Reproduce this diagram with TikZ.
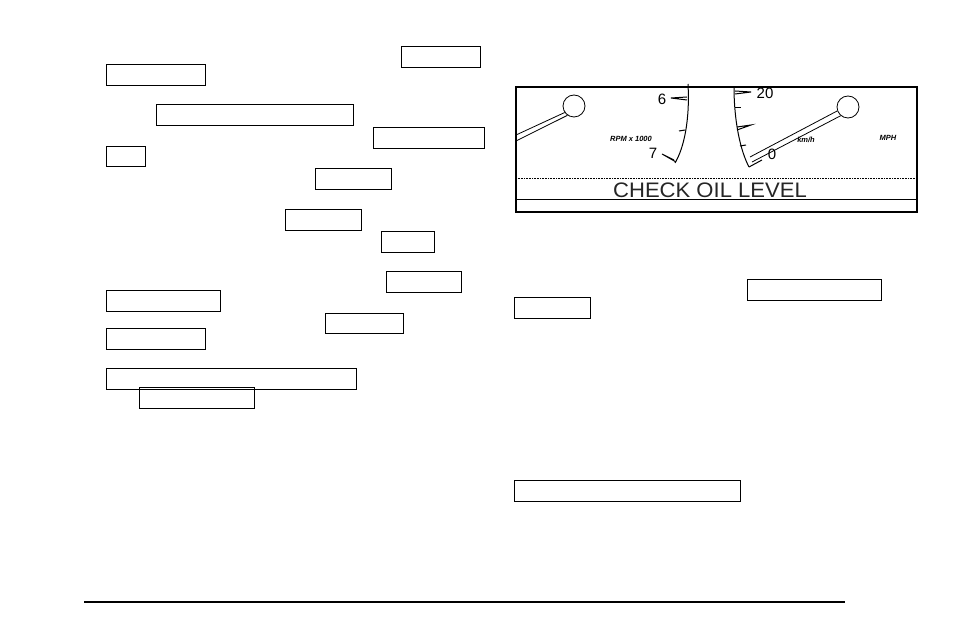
\documentclass[tikz,border=0pt]{standalone}
\usepackage{fontspec}
\setsansfont{Liberation Sans}
\usetikzlibrary{positioning}
\begin{document}
\begin{tikzpicture}[x=1pt,y=-1pt,
  blank/.style={draw,line width=0.8pt},
  needle/.style={line width=0.8pt},
  tick/.style={line width=1pt},
  lbl/.style={font=\sffamily\fontsize{15}{15}\selectfont},
  small/.style={font=\sffamily\itshape\bfseries\fontsize{7.5}{8}\selectfont}]
  \useasboundingbox (0,0) rectangle (954,636);
  % empty boxes
  \foreach \xa/\ya/\xb/\yb in {401/46/480/67, 106/64/205/85, 156/104/353/125,
      373/127/484/148, 106/146/145/166, 315/168/391/189, 285/209/361/230,
      381/231/434/252, 386/271/461/292, 106/290/220/311, 325/313/403/333,
      106/328/205/349, 106/368/356/389, 139/387/254/408,
      747/279/881/300, 514/297/590/318, 514/480/740/501}
    \draw[blank] (\xa,\ya) rectangle (\xb,\yb);
  % bottom rule
  \draw[line width=2.5pt] (84,602) -- (845,602);
  % gauge panel
  \draw[line width=1.4pt] (516,87) rectangle (917,212);
  \draw[densely dotted, line width=0.6pt] (516,178) -- (917,178);
  \draw[line width=1pt] (516,200) -- (917,200);
  \node[font=\sffamily\fontsize{21}{21}\selectfont,xscale=1.05,text=black!85] (msg) at (710,190) {CHECK OIL LEVEL};
  % tachometer
  \node[circle,draw,needle,minimum size=22pt,inner sep=0pt] (tpivot) at (574,106) {};
  \draw[needle] (tpivot.215) -- (516,135);
  \draw[needle] (tpivot.235) -- (516,141);
  \draw[line width=1pt] (688,84) .. controls (690,120) and (684,148) .. (675,163);
  \draw[tick] (687,97) -- (671,98) -- (687,100);
  \draw[tick] (685,130) -- (679,131);
  \draw[tick] (676,162) -- (662,154) -- (674,160);
  \node[lbl] (six) at (662,99) {6};
  \node[lbl] (seven) at (653,153) {7};
  \node[small] (rpm) at (631,139) {RPM x 1000};
  % speedometer
  \node[circle,draw,needle,minimum size=22pt,inner sep=0pt] (spivot) at (848,107) {};
  \draw[line width=1pt] (734,87) .. controls (734,120) and (740,150) .. (749,167);
  \draw[tick] (735,91) -- (751,92) -- (735,94);
  \draw[tick] (735,108) -- (741,108);
  \draw[tick] (737,127) -- (751,125) -- (737,130);
  \draw[tick] (740,146) -- (746,145);
  \draw[needle] (spivot.200) -- (750,157);
  \draw[needle] (spivot.230) -- (752,162);
  \draw[tick] (749,167) -- (762,160);
  \node[lbl] (twenty) at (765,93) {20};
  \node[lbl] (zero) at (772,154) {0};
  \node[small] (kmh) at (806,140) {km/h};
  \node[small] (mph) at (888,138) {MPH};
\end{tikzpicture}
\end{document}
